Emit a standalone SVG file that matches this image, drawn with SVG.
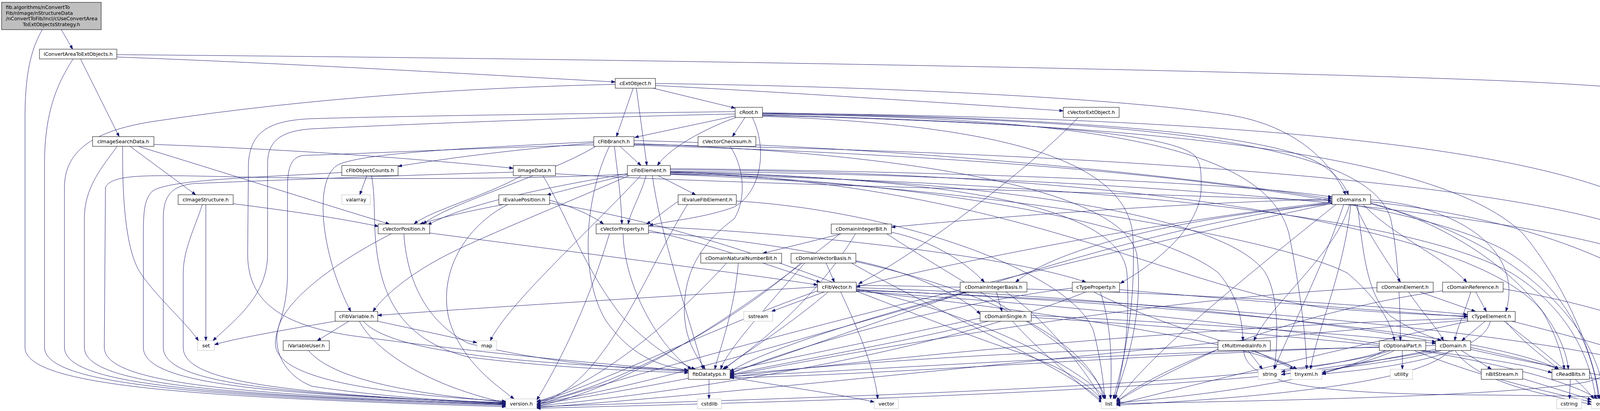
<svg xmlns="http://www.w3.org/2000/svg" width="4619" height="1053" viewBox="0 0 4619 1053">
<defs>
<style>
.e{fill:none;stroke:#191970;stroke-width:1;marker-end:url(#a)}
.n rect{fill:#ffffff;stroke:#000000;stroke-width:1}
.s rect{fill:#ffffff;stroke:#bfbfbf;stroke-width:1}
.r rect{fill:#bfbfbf;stroke:#000000;stroke-width:1}
text{font-family:"DejaVu Sans","Liberation Sans",sans-serif;font-size:12.7px;fill:#000000;text-anchor:middle}
.l{text-anchor:start}
</style>
<marker id="a" markerWidth="11" markerHeight="8" refX="10" refY="4" orient="auto" markerUnits="userSpaceOnUse">
<path d="M0,0.5 L10,4 L0,7.5 z" fill="#191970" stroke="#191970" stroke-width="1"/>
</marker>
</defs>
<rect x="0" y="0" width="4619" height="1053" fill="#ffffff"/>
<g id="connectors">
<path class="e" d="M157,76 L186,126"/>
<path class="e" d="M108,76 C90,110 64,160 64,300 L64,890 C64,990 500,1018 1295,1042"/>
<path class="e" d="M206,151 L305,350"/>
<path class="e" d="M299,146 C800,165 1300,195 1575,210"/>
<path class="e" d="M187,151 C150,210 114,280 114,420 L114,890 C114,985 500,1016 1295,1039"/>
<path class="e" d="M299,140 C1500,150 3000,175 3800,205 C4300,225 4478,255 4478,310 L4478,628 C4478,760 4300,900 4065,978 C3900,1010 3400,1025 2858,1034"/>
<path class="e" d="M1672,226 L1882,277"/>
<path class="e" d="M1678,219 C2000,236 2400,262 2722,284"/>
<path class="e" d="M1621,226 L1578,350"/>
<path class="e" d="M1629,226 L1656,424"/>
<path class="e" d="M1678,214 C2300,222 2900,255 3150,295 C3300,320 3400,400 3445,499"/>
<path class="e" d="M1575,216 C1200,225 800,250 400,310 C250,332 165,380 165,480 L165,890 C165,985 520,1014 1295,1036"/>
<path class="e" d="M1882,297 L1625,352"/>
<path class="e" d="M1884,301 C1830,320 1720,370 1683,424"/>
<path class="e" d="M1907,301 L1875,350"/>
<path class="e" d="M1926,301 C1965,380 1950,490 1880,530 C1800,560 1700,567 1662,578"/>
<path class="e" d="M1952,289 C2700,300 3250,340 3380,420 C3420,445 3440,470 3452,499"/>
<path class="e" d="M1952,291 C2900,305 3500,360 3560,560 C3580,650 3585,800 3585,873"/>
<path class="e" d="M1952,295 C2600,310 3000,340 3060,400 C3075,420 3075,440 3075,480 C3075,560 3000,650 2868,726"/>
<path class="e" d="M1882,292 C1500,300 1000,320 800,330 C720,335 685,360 685,420 L685,650 C685,760 600,820 545,873"/>
<path class="e" d="M1882,286 C1400,292 1000,298 800,304 C700,308 640,330 636,420 L634,650 C634,760 700,830 900,860 C1200,900 1500,930 1762,950"/>
<path class="e" d="M1952,298 C2600,320 2880,420 2900,600 C2910,800 2870,950 2850,1022"/>
<path class="e" d="M1952,293 C2900,300 3250,400 3300,600 C3330,750 3345,880 3345,946"/>
<path class="e" d="M1952,296 C3000,320 3700,400 3900,600 C4000,720 4080,900 4095,1022"/>
<path class="e" d="M1952,290 C3200,300 4000,380 4250,550 C4400,660 4440,850 4445,1022"/>
<path class="e" d="M2760,301 C2650,420 2350,650 2198,727"/>
<path class="e" d="M333,375 L501,499"/>
<path class="e" d="M394,370 C800,385 1100,410 1314,431"/>
<path class="e" d="M354,375 C600,450 850,530 997,574"/>
<path class="e" d="M314,375 C313,500 320,640 360,700 C400,760 480,830 508,873"/>
<path class="e" d="M300,375 C260,430 216,480 216,560 L216,890 C216,985 560,1012 1295,1037"/>
<path class="e" d="M597,522 C700,535 850,555 969,580"/>
<path class="e" d="M527,524 L527,873"/>
<path class="e" d="M518,524 C500,580 469,640 469,700 L469,890 C469,975 700,1008 1295,1034"/>
<path class="e" d="M1587,375 L1641,424"/>
<path class="e" d="M1520,366 C1300,385 1150,405 1019,426"/>
<path class="e" d="M1520,363 C1200,380 950,390 870,420 C800,450 820,650 898,798"/>
<path class="e" d="M1525,375 C1400,450 1150,520 1083,574"/>
<path class="e" d="M1573,375 C1580,440 1590,500 1592,574"/>
<path class="e" d="M1623,360 C2400,380 3100,460 3410,510"/>
<path class="e" d="M1520,371 C1200,380 900,395 780,398 C745,400 736,430 736,480 L736,700 C736,800 705,840 705,880 C705,960 900,1005 1295,1028"/>
<path class="e" d="M1623,368 C2300,390 2870,480 2910,650 C2930,800 2880,950 2852,1022"/>
<path class="e" d="M1623,372 C2600,400 3550,480 3850,640 C3990,720 4080,880 4092,1022"/>
<path class="e" d="M1623,370 C2800,390 4000,470 4250,620 C4400,720 4450,900 4455,1022"/>
<path class="e" d="M1560,375 C1500,500 1480,700 1550,820 C1620,920 1700,940 1762,948"/>
<path class="e" d="M1869,375 C1900,420 1915,500 1880,560 C1800,620 1750,690 1752,800 C1754,880 1790,920 1805,946"/>
<path class="e" d="M939,450 L921,499"/>
<path class="e" d="M951,450 C965,520 950,600 975,700 C1000,800 1060,880 1200,915 C1400,940 1600,950 1762,955"/>
<path class="e" d="M875,442 C650,455 430,460 390,490 C370,510 367,540 367,600 L367,890 C367,980 650,1010 1295,1032"/>
<path class="e" d="M1335,450 C1250,500 1100,540 1060,574"/>
<path class="e" d="M1314,441 C1000,450 700,462 500,470 C440,475 418,500 418,560 L418,890 C418,978 680,1009 1295,1033"/>
<path class="e" d="M1390,450 C1450,550 1500,700 1600,820 C1680,900 1740,930 1780,946"/>
<path class="e" d="M1422,445 C1800,470 2800,490 3410,515"/>
<path class="e" d="M1685,450 L1781,499"/>
<path class="e" d="M1606,448 C1520,470 1450,485 1400,500"/>
<path class="e" d="M1606,445 C1400,480 1200,520 1095,576"/>
<path class="e" d="M1654,450 C1640,500 1615,540 1608,574"/>
<path class="e" d="M1610,450 C1450,520 1250,600 1150,650 C1050,700 980,760 955,798"/>
<path class="e" d="M1716,432 C2500,440 3200,470 3410,505"/>
<path class="e" d="M1716,441 C2600,470 3000,740 3400,790 C3600,805 3700,808 3757,810"/>
<path class="e" d="M1716,444 C2500,470 3000,600 3120,700 C3170,760 3180,820 3182,873"/>
<path class="e" d="M1716,447 C2600,480 3300,620 3450,700 C3520,760 3560,820 3570,873"/>
<path class="e" d="M1606,446 C1400,458 1000,460 700,455 C400,450 290,440 270,480 L267,890 C267,982 600,1011 1295,1035"/>
<path class="e" d="M1670,450 C1690,600 1760,800 1800,946"/>
<path class="e" d="M1716,440 C2400,455 2870,520 2885,700 C2895,850 2870,960 2855,1022"/>
<path class="e" d="M1640,450 C1500,600 1300,780 1255,873"/>
<path class="e" d="M1716,435 C3000,440 3800,600 3950,800 C3990,870 4000,920 4005,946"/>
<path class="e" d="M1716,442 C2600,460 3150,560 3240,700 C3275,760 3272,880 3262,946"/>
<path class="e" d="M1716,446 C2800,470 3600,550 3870,700 C4000,780 4070,900 4085,1022"/>
<path class="e" d="M1716,439 C3000,450 4100,560 4300,700 C4420,790 4455,900 4460,1022"/>
<path class="e" d="M1290,524 C1200,540 1120,560 1075,574"/>
<path class="e" d="M1400,511 C1470,530 1520,555 1545,574"/>
<path class="e" d="M1300,524 C1190,580 1120,700 1150,820 C1180,920 1260,980 1316,1022"/>
<path class="e" d="M1407,520 C1900,600 2300,800 2600,900 C2750,950 2800,1000 2822,1025"/>
<path class="e" d="M1736,516 C1700,540 1680,560 1655,574"/>
<path class="e" d="M1760,524 C1650,700 1550,990 1374,1035"/>
<path class="e" d="M1885,515 C2300,540 2750,700 2800,850 C2820,930 2826,990 2828,1022"/>
<path class="e" d="M1100,597 C1500,650 1900,700 2093,730"/>
<path class="e" d="M1002,599 C900,650 760,740 720,820 C690,880 720,960 800,990 C1000,1020 1200,1030 1295,1031"/>
<path class="e" d="M1034,599 C1040,700 1080,820 1200,880 C1400,930 1600,945 1762,951"/>
<path class="e" d="M1660,590 C1800,620 2000,690 2100,723"/>
<path class="e" d="M1660,580 C2100,600 2600,660 2780,723"/>
<path class="e" d="M1560,599 C1500,800 1420,950 1374,1025"/>
<path class="e" d="M1595,599 C1600,750 1700,900 1770,946"/>
<path class="e" d="M1660,595 C2300,640 2780,820 2826,1022"/>
<path class="e" d="M3410,510 C3000,520 2500,560 2282,582"/>
<path class="e" d="M3470,524 C3500,600 3560,680 3585,723"/>
<path class="e" d="M3490,524 C3560,600 3700,660 3755,723"/>
<path class="e" d="M3509,512 C3750,530 3900,650 3855,798"/>
<path class="e" d="M3475,524 C3490,650 3500,760 3560,810 C3620,850 3660,862 3690,873"/>
<path class="e" d="M3410,518 C3000,560 2400,680 2192,735"/>
<path class="e" d="M3455,524 C3420,650 3250,780 3210,873"/>
<path class="e" d="M3440,524 C3380,700 3300,850 3262,946"/>
<path class="e" d="M3458,524 C3440,700 3370,850 3355,946"/>
<path class="e" d="M3410,521 C2800,650 1800,900 1374,1038"/>
<path class="e" d="M3410,519 C2800,600 2200,850 1869,955"/>
<path class="e" d="M3420,524 C3200,700 2950,900 2858,1028"/>
<path class="e" d="M3509,520 C3800,600 4000,800 4015,946"/>
<path class="e" d="M3509,522 C3900,620 4100,850 4105,1022"/>
<path class="e" d="M3509,517 C4100,580 4430,800 4450,1022"/>
<path class="e" d="M3410,522 C3000,560 2700,640 2600,723"/>
<path class="e" d="M2154,599 L1953,649"/>
<path class="e" d="M2282,595 C2400,620 2480,680 2520,723"/>
<path class="e" d="M2150,599 C1900,800 1600,1000 1374,1040"/>
<path class="e" d="M2190,599 C2100,750 1950,880 1850,946"/>
<path class="e" d="M2270,599 C2500,750 2800,900 2830,1022"/>
<path class="e" d="M1860,674 C1700,850 1500,1000 1374,1028"/>
<path class="e" d="M1890,674 C1880,800 1840,900 1830,946"/>
<path class="e" d="M2115,674 L2136,723"/>
<path class="e" d="M2191,668 C2350,700 2480,770 2509,805"/>
<path class="e" d="M2050,674 C1850,850 1550,1000 1374,1030"/>
<path class="e" d="M2060,674 C1950,800 1860,900 1845,946"/>
<path class="e" d="M2180,674 C2400,800 2750,950 2822,1030"/>
<path class="e" d="M2093,735 C1700,760 1200,790 967,808"/>
<path class="e" d="M2110,748 L1975,798"/>
<path class="e" d="M2152,748 C2200,850 2240,950 2247,1022"/>
<path class="e" d="M2120,748 C2000,850 1880,920 1855,946"/>
<path class="e" d="M2093,745 C1800,850 1500,1000 1374,1030"/>
<path class="e" d="M2192,740 C2500,800 2780,950 2830,1022"/>
<path class="e" d="M2192,731 C2900,740 3500,780 3757,806"/>
<path class="e" d="M2192,737 C2900,760 3500,840 3676,876"/>
<path class="e" d="M2192,742 C3000,780 3800,850 3990,946"/>
<path class="e" d="M2192,745 C2700,800 3200,880 3320,946"/>
<path class="e" d="M2192,746 C3000,800 3900,900 4090,1022"/>
<path class="e" d="M2192,744 C3200,780 4300,880 4440,1022"/>
<path class="e" d="M2551,748 L2565,798"/>
<path class="e" d="M2480,748 C2100,850 1700,980 1374,1034"/>
<path class="e" d="M2470,748 C2200,820 1950,900 1869,952"/>
<path class="e" d="M2575,748 C2680,820 2780,950 2820,1022"/>
<path class="e" d="M2866,742 C3300,780 3600,800 3757,812"/>
<path class="e" d="M2817,748 C2850,850 2845,950 2843,1022"/>
<path class="e" d="M2780,748 C2400,900 1800,1000 1374,1040"/>
<path class="e" d="M2745,738 C2400,780 2000,900 1869,958"/>
<path class="e" d="M2800,748 C3000,850 3250,900 3320,946"/>
<path class="e" d="M3635,748 L3777,798"/>
<path class="e" d="M3606,748 C3640,800 3680,840 3695,873"/>
<path class="e" d="M3525,737 C3000,760 2300,880 1869,962"/>
<path class="e" d="M3778,748 L3805,798"/>
<path class="e" d="M3765,748 C3750,800 3730,840 3724,873"/>
<path class="e" d="M3693,745 C3300,800 2950,950 2858,1030"/>
<path class="e" d="M3848,740 C4200,800 4420,900 4455,1022"/>
<path class="e" d="M893,823 L812,873"/>
<path class="e" d="M858,823 C700,850 600,868 549,883"/>
<path class="e" d="M967,823 L1221,878"/>
<path class="e" d="M920,823 C960,900 1100,990 1295,1032"/>
<path class="e" d="M930,823 C1000,900 1300,930 1762,948"/>
<path class="e" d="M790,898 C840,960 1000,1005 1295,1030"/>
<path class="e" d="M2640,808 C3100,830 3500,860 3676,880"/>
<path class="e" d="M2509,815 C2200,880 1700,990 1374,1036"/>
<path class="e" d="M2530,823 C2300,880 2000,930 1869,960"/>
<path class="e" d="M2592,823 C2660,900 2760,980 2822,1032"/>
<path class="e" d="M2640,813 C3200,850 3800,900 3973,955"/>
<path class="e" d="M3802,823 L3742,873"/>
<path class="e" d="M3815,823 C3800,900 3600,940 3384,958"/>
<path class="e" d="M3757,816 C3200,830 2400,900 1869,966"/>
<path class="e" d="M3757,820 C3000,880 2000,1000 1374,1044"/>
<path class="e" d="M3855,823 C3900,880 3960,920 3990,946"/>
<path class="e" d="M3870,823 C4100,880 4350,950 4430,1022"/>
<path class="e" d="M3850,823 C3950,900 4050,980 4080,1022"/>
<path class="e" d="M3760,823 C3400,900 3000,1000 2858,1036"/>
<path class="e" d="M3195,898 L3232,946"/>
<path class="e" d="M3210,898 L3312,946"/>
<path class="e" d="M3118,890 C2500,900 2100,940 1869,960"/>
<path class="e" d="M3184,898 C3190,990 3400,1010 3800,1012 C4000,1014 4300,1018 4426,1034"/>
<path class="e" d="M3118,895 C3000,950 2900,1000 2858,1030"/>
<path class="e" d="M3590,898 L3590,946"/>
<path class="e" d="M3570,898 C3500,930 3420,945 3384,955"/>
<path class="e" d="M3550,898 C3450,930 3320,945 3280,953"/>
<path class="e" d="M3531,890 C2900,900 2200,950 1869,964"/>
<path class="e" d="M3560,898 C3300,990 2000,1020 1374,1042"/>
<path class="e" d="M3545,898 C3400,980 3000,1020 2858,1032"/>
<path class="e" d="M3620,898 C3800,970 3950,1000 4074,1030"/>
<path class="e" d="M3741,898 L3818,946"/>
<path class="e" d="M3765,890 C3850,910 3950,930 3990,946"/>
<path class="e" d="M3675,895 C3550,920 3420,940 3384,960"/>
<path class="e" d="M3680,898 C3500,930 3330,950 3280,960"/>
<path class="e" d="M3711,898 C3660,960 3400,1010 2858,1038"/>
<path class="e" d="M3725,898 C3780,980 3950,1010 4074,1036"/>
<path class="e" d="M3765,895 C4000,950 4300,990 4426,1030"/>
<path class="e" d="M3675,885 C3000,900 2300,960 1869,968"/>
<path class="e" d="M3690,898 C3300,1000 2000,1030 1374,1046"/>
<path class="e" d="M3898,970 L4074,1024"/>
<path class="e" d="M4020,972 L4018,1022"/>
<path class="e" d="M4069,968 C4250,990 4380,1010 4426,1026"/>
<path class="e" d="M1815,972 L1815,1022"/>
<path class="e" d="M1869,966 C2000,990 2150,1010 2238,1030"/>
</g>
<g id="n_root" class="r"><rect x="4" y="6" width="255" height="70"/><text class="l" x="15" y="23">fib.algorithms/nConvertTo</text><text class="l" x="15" y="37.5">Fib/nImage/nStructureData</text><text class="l" x="15" y="52">/nConvertToFib/incl/cUseConvertArea</text><text x="131.5" y="67">ToExtObjectsStrategy.h</text></g>
<g id="n_iConvertAreaToExtObjects" class="n"><rect x="101" y="126" width="198" height="25"/><text x="200" y="143">iConvertAreaToExtObjects.h</text></g>
<g id="n_cExtObject" class="n"><rect x="1575" y="201" width="103" height="25"/><text x="1626.5" y="218">cExtObject.h</text></g>
<g id="n_cRoot" class="n"><rect x="1882" y="275" width="70" height="26"/><text x="1917" y="292">cRoot.h</text></g>
<g id="n_cVectorExtObject" class="n"><rect x="2722" y="275" width="143" height="26"/><text x="2793.5" y="292">cVectorExtObject.h</text></g>
<g id="n_cImageSearchData" class="n"><rect x="237" y="350" width="157" height="25"/><text x="315.5" y="367">cImageSearchData.h</text></g>
<g id="n_cFibBranch" class="n"><rect x="1520" y="350" width="103" height="25"/><text x="1571.5" y="367">cFibBranch.h</text></g>
<g id="n_cVectorChecksum" class="n"><rect x="1787" y="350" width="148" height="25"/><text x="1861" y="367">cVectorChecksum.h</text></g>
<g id="n_cFibObjectCounts" class="n"><rect x="875" y="424" width="144" height="26"/><text x="947" y="441">cFibObjectCounts.h</text></g>
<g id="n_iImageData" class="n"><rect x="1314" y="424" width="108" height="26"/><text x="1368" y="441">iImageData.h</text></g>
<g id="n_cFibElement" class="n"><rect x="1606" y="424" width="110" height="26"/><text x="1661" y="441">cFibElement.h</text></g>
<g id="n_valarray" class="s"><rect x="875" y="499" width="73" height="25"/><text x="911.5" y="516">valarray</text></g>
<g id="n_cImageStructure" class="n"><rect x="456" y="499" width="141" height="25"/><text x="526.5" y="516">cImageStructure.h</text></g>
<g id="n_iEvaluePosition" class="n"><rect x="1277" y="499" width="130" height="25"/><text x="1342" y="516">iEvaluePosition.h</text></g>
<g id="n_iEvalueFibElement" class="n"><rect x="1736" y="499" width="149" height="25"/><text x="1810.5" y="516">iEvalueFibElement.h</text></g>
<g id="n_cDomains" class="n"><rect x="3410" y="499" width="99" height="25"/><text x="3459.5" y="516">cDomains.h</text></g>
<g id="n_cVectorPosition" class="n"><rect x="968" y="574" width="132" height="25"/><text x="1034" y="591">cVectorPosition.h</text></g>
<g id="n_cVectorProperty" class="n"><rect x="1526" y="574" width="134" height="25"/><text x="1593" y="591">cVectorProperty.h</text></g>
<g id="n_cDomainIntegerBit" class="n"><rect x="2128" y="574" width="154" height="25"/><text x="2205" y="591">cDomainIntegerBit.h</text></g>
<g id="n_cDomainNaturalNumberBit" class="n"><rect x="1794" y="649" width="207" height="25"/><text x="1897.5" y="666">cDomainNaturalNumberBit.h</text></g>
<g id="n_cDomainVectorBasis" class="n"><rect x="2025" y="649" width="166" height="25"/><text x="2108" y="666">cDomainVectorBasis.h</text></g>
<g id="n_cFibVector" class="n"><rect x="2093" y="723" width="99" height="25"/><text x="2142.5" y="740">cFibVector.h</text></g>
<g id="n_cDomainIntegerBasis" class="n"><rect x="2458" y="723" width="171" height="25"/><text x="2543.5" y="740">cDomainIntegerBasis.h</text></g>
<g id="n_cTypeProperty" class="n"><rect x="2745" y="723" width="121" height="25"/><text x="2805.5" y="740">cTypeProperty.h</text></g>
<g id="n_cDomainElement" class="n"><rect x="3525" y="723" width="144" height="25"/><text x="3597" y="740">cDomainElement.h</text></g>
<g id="n_cDomainReference" class="n"><rect x="3693" y="723" width="155" height="25"/><text x="3770.5" y="740">cDomainReference.h</text></g>
<g id="n_cFibVariable" class="n"><rect x="858" y="798" width="109" height="25"/><text x="912.5" y="815">cFibVariable.h</text></g>
<g id="n_sstream" class="s"><rect x="1904" y="798" width="74" height="25"/><text x="1941" y="815">sstream</text></g>
<g id="n_cDomainSingle" class="n"><rect x="2509" y="798" width="131" height="25"/><text x="2574.5" y="815">cDomainSingle.h</text></g>
<g id="n_cTypeElement" class="n"><rect x="3757" y="798" width="122" height="25"/><text x="3818" y="815">cTypeElement.h</text></g>
<g id="n_iVariableUser" class="n"><rect x="725" y="873" width="118" height="25"/><text x="784" y="890">iVariableUser.h</text></g>
<g id="n_set" class="s"><rect x="506" y="873" width="43" height="25"/><text x="527.5" y="890">set</text></g>
<g id="n_map" class="s"><rect x="1221" y="873" width="50" height="25"/><text x="1246" y="890">map</text></g>
<g id="n_cMultimediaInfo" class="n"><rect x="3118" y="873" width="134" height="25"/><text x="3185" y="890">cMultimediaInfo.h</text></g>
<g id="n_cOptionalPart" class="n"><rect x="3531" y="873" width="119" height="25"/><text x="3590.5" y="890">cOptionalPart.h</text></g>
<g id="n_cDomain" class="n"><rect x="3675" y="873" width="90" height="25"/><text x="3720" y="890">cDomain.h</text></g>
<g id="n_fibDatatyps" class="n"><rect x="1762" y="946" width="107" height="26"/><text x="1815.5" y="963">fibDatatyps.h</text></g>
<g id="n_string" class="s"><rect x="3221" y="946" width="59" height="26"/><text x="3250.5" y="963">string</text></g>
<g id="n_tinyxml" class="s"><rect x="3304" y="946" width="80" height="26"/><text x="3344" y="963">tinyxml.h</text></g>
<g id="n_utility" class="s"><rect x="3559" y="946" width="57" height="26"/><text x="3587.5" y="963">utility</text></g>
<g id="n_nBitStream" class="n"><rect x="3792" y="946" width="106" height="26"/><text x="3845" y="963">nBitStream.h</text></g>
<g id="n_cReadBits" class="n"><rect x="3973" y="946" width="96" height="26"/><text x="4021" y="963">cReadBits.h</text></g>
<g id="n_version" class="s"><rect x="1295" y="1022" width="79" height="25"/><text x="1334.5" y="1039">version.h</text></g>
<g id="n_cstdlib" class="s"><rect x="1785" y="1022" width="62" height="25"/><text x="1816" y="1039">cstdlib</text></g>
<g id="n_vector" class="s"><rect x="2238" y="1022" width="62" height="25"/><text x="2269" y="1039">vector</text></g>
<g id="n_list" class="s"><rect x="2819" y="1022" width="39" height="25"/><text x="2838.5" y="1039">list</text></g>
<g id="n_cstring" class="s"><rect x="3985" y="1022" width="64" height="25"/><text x="4017" y="1039">cstring</text></g>
<g id="n_ostream" class="s"><rect x="4074" y="1022" width="76" height="25"/><text x="4112" y="1039">ostream</text></g>
<g id="n_istream" class="s"><rect x="4426" y="1022" width="70" height="25"/><text x="4461" y="1039">istream</text></g>
</svg>
